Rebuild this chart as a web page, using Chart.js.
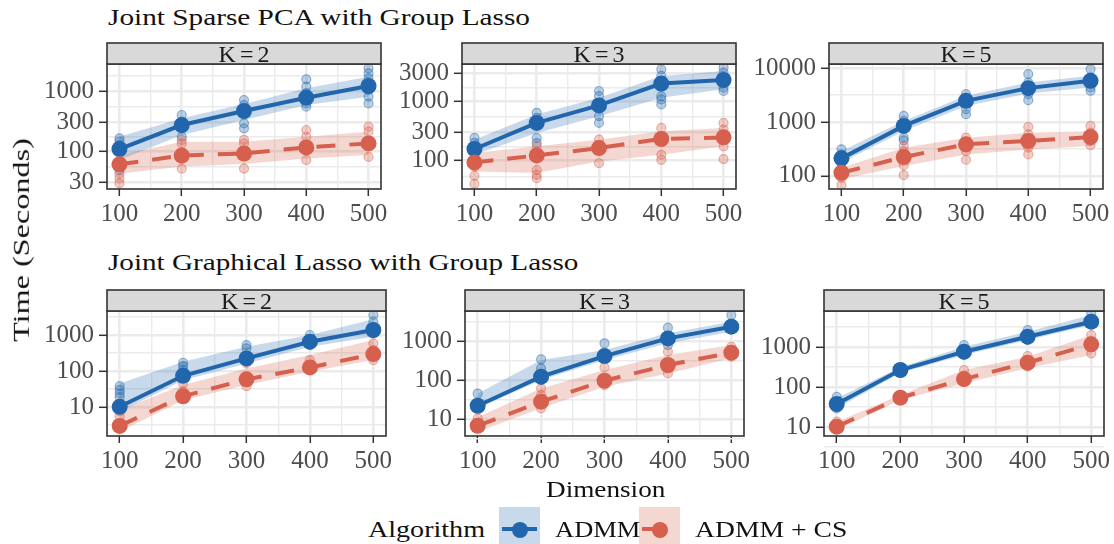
<!DOCTYPE html>
<html>
<head>
<meta charset="utf-8">
<script src="https://cdn.jsdelivr.net/npm/chart.js@4/dist/chart.umd.min.js"></script>
<style>
  html, body { margin: 0; padding: 0; background: #fff; }
  #stage { position: relative; width: 1114px; height: 544px; overflow: hidden; }
  canvas { position: absolute; left: 0; top: 0; }
</style>
</head>
<body>
<div id="stage"></div>
<script>
// Timing results, seconds (log scale). Means, ribbon bounds and the raw replicates per dimension.
const dims = [100, 200, 300, 400, 500];
const xMinor = [150, 250, 350, 450];

// Joint Sparse PCA, K=2
const pcaK2Admm   = [108, 271, 464, 774, 1212];
const pcaK2AdmmLo = [71, 185, 329, 584, 805];
const pcaK2AdmmHi = [173, 350, 607, 1108, 1733];
const pcaK2AdmmPts = [[100,163],[100,143],[100,126],[100,48],[200,398],[200,308],[200,239],[200,173],
  [300,708],[300,584],[300,289],[300,239],[400,1565],[400,1181],[400,915],[400,622],[400,548],
  [500,2389],[500,1968],[500,1626],[500,1039],[500,805],[500,622]];
const pcaK2Cs   = [60, 84, 91, 115, 134];
const pcaK2CsLo = [42, 55, 61, 75, 86];
const pcaK2CsHi = [86, 143, 143, 173, 210];
const pcaK2CsPts = [[100,42],[100,35],[100,29],[200,153],[200,134],[200,51],[300,153],[300,134],[300,51],
  [400,224],[400,173],[400,71],[500,255],[500,210],[500,80]];

// Joint Sparse PCA, K=3
const pcaK3Admm   = [158, 435, 855, 1995, 2296];
const pcaK3AdmmLo = [126, 294, 564, 1154, 1596];
const pcaK3AdmmHi = [227, 602, 1154, 2685, 3265];
const pcaK3AdmmPts = [[100,243],[100,200],[100,135],[200,643],[200,530],[200,243],[200,199],
  [300,1497],[300,1230],[300,564],[300,435],[400,3482],[400,2685],[400,1230],[400,1081],[400,890],
  [500,3720],[500,3060],[500,1706],[500,1497]];
const pcaK3Cs   = [94, 123, 164, 233, 248];
const pcaK3CsLo = [66, 62, 97, 126, 175];
const pcaK3CsHi = [135, 175, 227, 314, 358];
const pcaK3CsPts = [[100,80],[100,56],[100,41],[200,175],[200,70],[200,58],[200,51],[300,227],[300,91],
  [400,358],[400,126],[400,104],[500,435],[500,335],[500,175],[500,107]];

// Joint Sparse PCA, K=5
const pcaK5Admm   = [211, 843, 2460, 4240, 5800];
const pcaK5AdmmLo = [175, 680, 1986, 3365, 4355];
const pcaK5AdmmHi = [288, 1044, 3050, 5395, 7190];
const pcaK5AdmmPts = [[100,310],[100,251],[100,175],[200,1294],[200,1044],[200,511],[200,456],
  [300,3280],[300,2645],[300,1722],[300,1390],[400,7730],[400,5395],[400,3280],[400,2535],
  [500,9550],[500,6680],[500,4355],[500,3775]];
const pcaK5Cs   = [114, 223, 384, 443, 525];
const pcaK5CsLo = [86, 152, 250, 309, 357];
const pcaK5CsHi = [141, 333, 510, 631, 680];
const pcaK5CsPts = [[100,141],[100,92],[100,67],[200,357],[200,288],[200,158],[200,103],
  [300,510],[300,288],[300,199],[400,807],[400,589],[400,333],[400,250],[500,843],[500,631],[500,443],[500,373]];

// Joint Graphical Lasso, K=2
const jglK2Admm   = [10.2, 74, 225, 653, 1377];
const jglK2AdmmLo = [7.4, 56, 163, 474, 900];
const jglK2AdmmHi = [45, 182, 474, 1000, 2720];
const jglK2AdmmPts = [[100,38],[100,30],[100,24],[100,19],[200,170],[200,138],[200,107],
  [300,525],[300,427],[300,250],[300,182],[400,1000],[400,759],[400,527],
  [500,3593],[500,2344],[500,1535],[500,1114]];
const jglK2Cs   = [3.0, 20, 59, 126, 296];
const jglK2CsLo = [2.1, 15.6, 41, 96, 202];
const jglK2CsHi = [8.3, 41, 118, 278, 727];
const jglK2CsPts = [[100,7.7],[100,5.6],[100,3.3],[200,45],[200,27],[300,163],[300,70],[300,38],
  [400,202],[400,107],[500,588],[500,383],[500,202]];

// Joint Graphical Lasso, K=3
const jglK3Admm   = [21.9, 122, 412, 1170, 2333];
const jglK3AdmmLo = [18.8, 100, 326, 872, 1734];
const jglK3AdmmHi = [45, 326, 588, 1574, 3130];
const jglK3AdmmPts = [[100,45],[100,25],[200,339],[200,200],[200,100],[300,872],[300,438],
  [400,2199],[400,789],[500,4640],[500,2113]];
const jglK3Cs   = [6.7, 27.8, 96, 243, 502];
const jglK3CsLo = [4.7, 18.8, 67, 148, 360];
const jglK3CsHi = [11, 61, 180, 438, 789];
const jglK3CsPts = [[100,10.4],[100,6.4],[200,61],[200,41],[200,18.8],[300,211],[300,74],
  [400,532],[400,148],[500,714],[500,396]];

// Joint Graphical Lasso, K=5
const jglK5Admm   = [37.6, 266, 764, 1811, 4295];
const jglK5AdmmLo = [29, 228, 631, 1496, 3548];
const jglK5AdmmHi = [52, 311, 1019, 2415, 6310];
const jglK5AdmmPts = [[100,57],[100,29],[200,266],[300,1122],[300,631],[400,2661],[400,1496],
  [500,6950],[500,3908]];
const jglK5Cs   = [10.2, 54, 158, 405, 1167];
const jglK5CsLo = [8.4, 47, 124, 293, 631];
const jglK5CsHi = [13.6, 63, 266, 573, 1995];
const jglK5CsPts = [[100,13.6],[100,9.3],[200,54],[300,266],[300,136],[400,596],[400,322],
  [500,1995],[500,1358],[500,695]];

// y tick labels (major) and the minor grid breaks ggplot puts between them
const pcaK2Ticks = [30, 100, 300, 1000];
const pcaK2Minor = [54.8, 173.2, 547.7, 1825.7];
const pcaK3Ticks = [100, 300, 1000, 3000];
const pcaK3Minor = [54.8, 173.2, 547.7, 1732];
const pcaK5Ticks = [100, 1000, 10000];
const pcaK5Minor = [316.2, 3162.3];
const jglTicks = [10, 100, 1000];
const jglMinor = [3.162, 31.62, 316.2, 3162.3];

const FONT = '"Liberation Serif", "Times New Roman", serif';
const BLUE = '#2166AC';
const RED = '#D6604D';

const stage = document.getElementById('stage');

// panel boxes: [left, right, top, bottom] of the plotting area
const panels = [
  { label: 'K=2', box: [107, 381, 64, 189], yRange: [23.3, 2818], ticks: pcaK2Ticks, minor: pcaK2Minor,
    admm: [pcaK2Admm, pcaK2AdmmLo, pcaK2AdmmHi, pcaK2AdmmPts], cs: [pcaK2Cs, pcaK2CsLo, pcaK2CsHi, pcaK2CsPts] },
  { label: 'K=3', box: [462, 736, 64, 189], yRange: [33.5, 4266], ticks: pcaK3Ticks, minor: pcaK3Minor,
    admm: [pcaK3Admm, pcaK3AdmmLo, pcaK3AdmmHi, pcaK3AdmmPts], cs: [pcaK3Cs, pcaK3CsLo, pcaK3CsHi, pcaK3CsPts] },
  { label: 'K=5', box: [829, 1103, 64, 189], yRange: [57, 11885], ticks: pcaK5Ticks, minor: pcaK5Minor,
    admm: [pcaK5Admm, pcaK5AdmmLo, pcaK5AdmmHi, pcaK5AdmmPts], cs: [pcaK5Cs, pcaK5CsLo, pcaK5CsHi, pcaK5CsPts] },
  { label: 'K=2', box: [107, 386, 311, 436], yRange: [1.58, 4640], ticks: jglTicks, minor: jglMinor,
    admm: [jglK2Admm, jglK2AdmmLo, jglK2AdmmHi, jglK2AdmmPts], cs: [jglK2Cs, jglK2CsLo, jglK2CsHi, jglK2CsPts] },
  { label: 'K=3', box: [465, 744, 311, 436], yRange: [3.66, 5900], ticks: jglTicks, minor: jglMinor,
    admm: [jglK3Admm, jglK3AdmmLo, jglK3AdmmHi, jglK3AdmmPts], cs: [jglK3Cs, jglK3CsLo, jglK3CsHi, jglK3CsPts] },
  { label: 'K=5', box: [824, 1104, 311, 436], yRange: [5.96, 7943], ticks: jglTicks, minor: jglMinor,
    admm: [jglK5Admm, jglK5AdmmLo, jglK5AdmmHi, jglK5AdmmPts], cs: [jglK5Cs, jglK5CsLo, jglK5CsHi, jglK5CsPts] },
];

// strip + panel border, drawn on top like ggplot's panel.border
const facetPlugin = {
  id: 'facet',
  afterDraw(chart, args, opts) {
    const { ctx, chartArea: a } = chart;
    const w = a.right - a.left;
    const h = opts.stripHeight;
    ctx.save();
    ctx.lineWidth = 1.6;
    ctx.strokeStyle = '#333333';
    ctx.strokeRect(a.left, a.top, w, a.bottom - a.top);
    ctx.fillStyle = '#D9D9D9';
    ctx.fillRect(a.left, a.top - h, w, h);
    ctx.strokeRect(a.left, a.top - h, w, h);
    ctx.fillStyle = '#1A1A1A';
    ctx.font = '24px ' + FONT;
    ctx.textAlign = 'center';
    ctx.letterSpacing = '4px';
    ctx.fillText(opts.label, (a.left + a.right) / 2 + 2, a.top - h + 18.5);
    ctx.restore();
  }
};

const xy = arr => dims.map((d, i) => ({ x: d, y: arr[i] }));
const pts = arr => arr.map(p => ({ x: p[0], y: p[1] }));

function ribbon(lo, hi, fillColor, orderBase, loIndex) {
  return [
    { data: xy(lo), borderWidth: 0, pointRadius: 0, fill: false, order: orderBase + 1 },
    { data: xy(hi), borderWidth: 0, pointRadius: 0, fill: { target: loIndex }, backgroundColor: fillColor, order: orderBase },
  ];
}

function makePanel(p) {
  const yW = 80, padTop = 25, padR = 26, xH = 42;
  const [L, R, T, B] = p.box;
  const canvas = document.createElement('canvas');
  canvas.width = yW + (R - L) + padR;
  canvas.height = padTop + (B - T) + xH;
  canvas.style.left = (L - yW) + 'px';
  canvas.style.top = (T - padTop) + 'px';
  stage.appendChild(canvas);

  const yAll = p.ticks.concat(p.minor).sort((a, b) => a - b);
  const isMajorY = v => p.ticks.includes(v);
  const isMajorX = v => dims.includes(v);

  const datasets = [
    // index 0,1: blue ribbon; 2,3: red ribbon
    ...ribbon(p.admm[1], p.admm[2], 'rgba(33,102,172,0.25)', 7, 0),
    ...ribbon(p.cs[1], p.cs[2], 'rgba(214,96,77,0.25)', 5, 2),
    { data: pts(p.admm[3]), showLine: false, pointRadius: 4.5, pointBorderWidth: 1.2,
      pointBackgroundColor: 'rgba(33,102,172,0.3)', pointBorderColor: 'rgba(33,102,172,0.45)', order: 4 },
    { data: pts(p.cs[3]), showLine: false, pointRadius: 4.5, pointBorderWidth: 1.2,
      pointBackgroundColor: 'rgba(214,96,77,0.3)', pointBorderColor: 'rgba(214,96,77,0.45)', order: 3 },
    { data: xy(p.admm[0]), borderColor: BLUE, borderWidth: 4, pointRadius: 8, pointBorderWidth: 0,
      pointBackgroundColor: BLUE, fill: false, order: 2 },
    { data: xy(p.cs[0]), borderColor: RED, borderWidth: 4, borderDash: [19, 14], pointRadius: 8, pointBorderWidth: 0,
      pointBackgroundColor: RED, fill: false, order: 1 },
  ];

  const gridColor = '#EBEBEB';
  new Chart(canvas, {
    type: 'line',
    data: { datasets },
    plugins: [facetPlugin],
    options: {
      responsive: false,
      animation: false,
      events: [],
      layout: { padding: { top: padTop, right: padR, left: 0, bottom: 0 } },
      plugins: {
        legend: { display: false },
        tooltip: { enabled: false },
        facet: { label: p.label, stripHeight: 21 },
      },
      scales: {
        x: {
          type: 'linear', min: 80, max: 520,
          afterBuildTicks: s => { s.ticks = dims.concat(xMinor).sort((a, b) => a - b).map(v => ({ value: v })); },
          afterFit: s => { s.height = xH; },
          border: { display: false },
          grid: {
            color: gridColor,
            lineWidth: c => (c.tick && isMajorX(c.tick.value)) ? 2.6 : 1.4,
            tickColor: c => (c.tick && isMajorX(c.tick.value)) ? '#333333' : 'rgba(0,0,0,0)',
            tickWidth: 1.5, tickLength: 7,
          },
          ticks: {
            autoSkip: false, maxRotation: 0, padding: 3, color: '#4D4D4D',
            font: { family: FONT, size: 25 },
            callback: v => isMajorX(v) ? String(v) : '',
          },
        },
        y: {
          type: 'logarithmic', min: p.yRange[0], max: p.yRange[1],
          afterBuildTicks: s => { s.ticks = yAll.map(v => ({ value: v })); },
          afterFit: s => { s.width = yW; },
          border: { display: false },
          grid: {
            color: gridColor,
            lineWidth: c => (c.tick && isMajorY(c.tick.value)) ? 2.6 : 1.4,
            tickColor: c => (c.tick && isMajorY(c.tick.value)) ? '#333333' : 'rgba(0,0,0,0)',
            tickWidth: 1.5, tickLength: 8,
          },
          ticks: {
            autoSkip: false, padding: 5, color: '#4D4D4D',
            font: { family: FONT, size: 25 },
            callback: v => isMajorY(v) ? String(v) : '',
          },
        },
      },
    },
  });
}

panels.forEach(makePanel);

// plain text pieces, stretched to the widths they have in the original
function addText(str, o) {
  const el = document.createElement('div');
  el.textContent = str;
  el.style.cssText = 'position:absolute;white-space:nowrap;font-family:' + FONT + ';font-size:' + o.size +
    'px;line-height:' + o.size + 'px;color:' + (o.color || '#000');
  stage.appendChild(el);
  const w = el.offsetWidth;
  const s = o.width ? o.width / w : 1;
  if (o.rotate) {
    el.style.left = (o.x - w / 2) + 'px';
    el.style.top = (o.y - o.size / 2) + 'px';
    el.style.transform = 'rotate(-90deg) scaleX(' + s + ')';
  } else {
    const left = o.anchor === 'center' ? o.x - (o.width || w) / 2 : o.x;
    el.style.transformOrigin = 'left top';
    el.style.left = left + 'px';
    el.style.top = (o.baseline - 0.8375 * o.size) + 'px';
    el.style.transform = 'scaleX(' + s + ')';
  }
}

addText('Joint Sparse PCA with Group Lasso', { x: 108, baseline: 25, size: 24, width: 422, color: '#111' });
addText('Joint Graphical Lasso with Group Lasso', { x: 108, baseline: 270, size: 24, width: 470, color: '#111' });
addText('Time (Seconds)', { x: 21, y: 240, size: 24, width: 204, rotate: true, color: '#111' });
addText('Dimension', { x: 605, baseline: 497, size: 24, width: 119, anchor: 'center', color: '#111' });
addText('Algorithm', { x: 368, baseline: 537, size: 24, width: 117, color: '#111' });
addText('ADMM', { x: 555, baseline: 537, size: 24, width: 85, color: '#111' });
addText('ADMM + CS', { x: 695, baseline: 537, size: 24, width: 152, color: '#111' });

// legend keys: ribbon box with line and dot
function addKey(x, color, fill, dashed) {
  const box = document.createElement('div');
  box.style.cssText = 'position:absolute;left:' + x + 'px;top:507px;width:41px;height:40px;background:' + fill;
  stage.appendChild(box);
  const line = document.createElement('div');
  const lineW = dashed ? 16 : 35;
  line.style.cssText = 'position:absolute;left:' + (x + 3) + 'px;top:527px;width:' + lineW + 'px;height:4px;background:' + color;
  stage.appendChild(line);
  const dot = document.createElement('div');
  dot.style.cssText = 'position:absolute;left:' + (x + 13) + 'px;top:521.5px;width:16px;height:16px;border-radius:50%;background:' + color;
  stage.appendChild(dot);
}
addKey(499, BLUE, 'rgba(33,102,172,0.25)', false);
addKey(639, RED, 'rgba(214,96,77,0.25)', true);
</script>
</body>
</html>
